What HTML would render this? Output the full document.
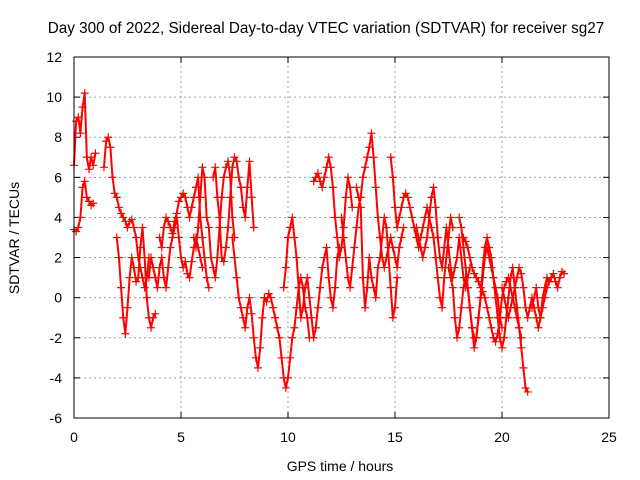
<!DOCTYPE html>
<html><head><meta charset="utf-8"><style>
body{margin:0;background:#fff;}
svg{display:block;font-family:"Liberation Sans",sans-serif;}
</style></head><body>
<svg id="chart" width="640" height="480">
<rect width="640" height="480" fill="#fff"/>
<text x="326" y="33" font-size="15.3" text-anchor="middle">Day 300 of 2022, Sidereal Day-to-day VTEC variation (SDTVAR) for receiver sg27</text>
<text x="340" y="471" font-size="14" text-anchor="middle">GPS time / hours</text>
<text x="19" y="238" font-size="14" text-anchor="middle" transform="rotate(-90 19 238)">SDTVAR / TECUs</text>
<g id="grid"></g>
<g id="ticks"></g>
<g id="series"></g>
<rect x="74" y="57" width="535" height="361" fill="none" stroke="#000" stroke-width="1"/>
</svg>
<script>
const xTicks=[0,5,10,15,20,25];
const yTicks=[-6,-4,-2,0,2,4,6,8,10,12];
const seriesStarts=[0,0,1.4,2.0,3.5,4.0,5.6,6.5,7.4,8.9,9.8,11.2,12.5,13.2,14.8,16.0,18.0,17.5,18.2,20.0,21.4];
const s0=[6.6,8.8,9.0,8.2,9.5,10.2,7.0,6.4,7.0,6.6,7.2];
const s1=[3.4,3.3,3.5,4.0,5.5,5.8,5.0,4.8,4.6,4.7];
const s2=[6.5,7.8,8.0,7.5,6.0,5.2,5.0,4.5,4.2,4.0,3.8,3.5,3.8,3.9,3.5,3.0,2.0,1.5,1.0,0.5,1.0,2.0];
const s3=[3.0,2.0,0.5,-1.0,-1.8,-0.5,1.0,2.0,1.5,0.8,1.0,2.5,3.5,2.0,0.0,-1.0,-1.5,-1.0,-0.8];
const s4=[1.0,2.0,1.5,1.0,0.5,1.5,2.0,1.0,0.5,1.5,2.5,3.0,3.5,4.0,3.0,2.0,1.5,1.8,1.2,1.0,1.8,2.5,3.0,2.5,2.0,1.5];
const s5=[3.0,2.5,3.5,4.0,3.8,3.5,3.2,3.8,4.2,4.8,5.0,5.2,5.0,4.5,4.0,4.5,5.0,5.5,6.0,4.0,3.0,2.0,1.0,0.5];
const s6=[3.0,2.5,3.5,5.0,6.5,6.0,4.0,3.5,2.0,1.5,1.0,2.0,3.5,5.0,6.0,6.5,6.8,6.0,4.0,3.0];
const s7=[6.0,6.5,5.0,4.0,2.0,1.8,2.5,3.5,5.0,6.5,7.0,6.8,6.0,5.5,4.5,4.0,5.5,6.8,5.0,3.5];
const s8=[3.0,2.0,1.0,0.0,-0.5,-1.0,-1.5,-0.5,0.0,-0.8,-2.0,-3.0,-3.5,-2.5,-1.0,0.0];
const s9=[0.0,-0.2,0.2,0.0,-0.5,-1.0,-1.5,-2.0,-3.0,-4.0,-4.5,-4.0,-3.0,-2.0,-1.5,-0.5,0.5,1.0,0.5,-0.5,-1.0,-2.0];
const s10=[0.5,1.5,3.0,3.5,4.0,3.0,2.0,0.5,-1.0,-0.5,0.5,1.0,0.0,-1.0,-2.0,-1.5,-0.5,0.5,1.5,2.0,2.5,1.0,0.0,-0.5,0.5,2.0,2.5];
const s11=[5.8,6.0,6.2,5.8,5.5,6.0,6.5,7.0,6.5,5.5,4.0,3.0,2.0,2.5,3.5,5.0,6.0,5.5,4.5];
const s12=[4.0,3.0,2.0,1.0,0.5,1.5,2.5,3.5,4.5,5.0,6.0,6.5,7.0,7.5,8.2,7.0,5.5,4.0,3.0,2.0,1.5,2.0,2.5,3.0,2.5,2.0,1.5,2.5,3.0,3.5];
const s13=[5.5,5.0,4.5,1.0,-0.5,0.5,2.0,1.0,0.5,0.0,1.5,2.0,3.0,4.0,3.5,2.0,0.5,-1.0,-0.5,1.0];
const s14=[7.0,6.0,4.5,3.5,4.0,4.5,5.0,5.2,5.0,4.5,4.0,3.5,3.0,2.5,3.0,3.5,4.0,4.5,4.0,3.5,3.0,2.0,1.0,0.0,-0.5,1.0,2.0,3.0,4.0,3.5];
const s15=[3.5,3.0,2.5,2.0,2.5,3.0,4.0,5.0,5.5,4.5,3.0,2.0,1.5,2.5,3.5,2.5,1.5,1.0,1.5,2.0,3.0,2.0,1.0,0.5,1.0,1.5];
const s16=[4.0,3.5,2.5,1.5,0.5,-0.5,-1.5,-2.0,-2.0,-1.0,0.0,1.5,2.5,3.0,2.5,2.0,1.0,0.0,-1.0,-2.0,-2.5,-2.0,-1.0,0.0,1.0,1.5,0.5,-0.5,-1.5,-2.0];
const s17=[1.5,1.0,0.5,-1.0,-2.0,-1.5,-0.5,0.5,1.0,0.5,-0.5,-1.5,-2.5,-2.0,-1.0,0.0,1.0,2.0,2.5,2.0,1.5,1.0,0.5,0.0,-1.0,-1.5];
const s18=[3.0,2.8,2.5,2.0,1.5,1.2,1.0,0.8,0.5,0.3,0.0,-0.5,-1.0,-1.5,-2.0,-2.2,-1.8,-1.0,0.0,0.5,0.8,1.0,0.5,0.0,-0.5,-1.0,-1.5,-2.5,-3.5,-4.5,-4.7];
const s19=[0.5,0.0,-0.5,-1.0,-0.5,0.0,0.5,1.0,1.5,1.2,0.5,-0.5,-1.0,-0.5,0.0,-0.5,-1.0,-1.5,-1.0,0.0,0.5,1.0,0.8];
const s20=[-0.5,0.0,0.5,-0.5,-1.0,-0.5,0.0,0.5,0.8,1.0,1.2,0.8,0.5,1.0,1.3,1.2];
const allSeries=[s0,s1,s2,s3,s4,s5,s6,s7,s8,s9,s10,s11,s12,s13,s14,s15,s16,s17,s18,s19,s20];
const step=0.1;
const X0=74,X1=609,Y0=418,Y1=57;
function xs(v){return X0+(v-0)/(25-0)*(X1-X0);}
function ys(v){return Y0-(v+6)/(18)*(Y0-Y1);}
const NS='http://www.w3.org/2000/svg';
const grid=document.getElementById('grid'),ticks=document.getElementById('ticks'),ser=document.getElementById('series');
function mk(t,a,p){const e=document.createElementNS(NS,t);for(const k in a)e.setAttribute(k,a[k]);p.appendChild(e);return e;}
xTicks.forEach(v=>{const x=xs(v);
 if(v>0&&v<25){const g=mk('line',{x1:x,x2:x,y1:Y0,y2:Y1,stroke:'#a0a0a0','stroke-dasharray':'2,3'},grid);
 
 }
 mk('line',{x1:x,x2:x,y1:Y0,y2:Y0-6,stroke:'#000'},ticks);
 mk('line',{x1:x,x2:x,y1:Y1,y2:Y1+6,stroke:'#000'},ticks);
 const t=mk('text',{x:x,y:Y0+24,'font-size':14,'text-anchor':'middle'},ticks);t.textContent=v;
 
 });
yTicks.forEach(v=>{const y=ys(v);
 if(v>-6&&v<12){const g=mk('line',{x1:X0,x2:X1,y1:y,y2:y,stroke:'#a0a0a0','stroke-dasharray':'2,3'},grid);
 
 }
 mk('line',{x1:X0,x2:X0+6,y1:y,y2:y,stroke:'#000'},ticks);
 mk('line',{x1:X1,x2:X1-6,y1:y,y2:y,stroke:'#000'},ticks);
 const t=mk('text',{x:X0-12,y:y+5,'font-size':14,'text-anchor':'end'},ticks);t.textContent=v;
 
 });
allSeries.forEach((arr,i)=>{
 const t0=seriesStarts[i];
 const g=mk('g',{},ser);
 
 
 const pts=arr.map((v,j)=>xs(t0+j*step)+','+ys(v)).join(' ');
 mk('polyline',{points:pts,fill:'none',stroke:'#f00','stroke-width':2,'stroke-linejoin':'round'},g);
 arr.forEach((v,j)=>{const x=xs(t0+j*step),y=ys(v);
  const p=mk('path',{d:`M${x-4},${y}h8M${x},${y-4}v8`,stroke:'#f00','stroke-width':1.2},g);
  
  });
});
</script>
</body></html>
